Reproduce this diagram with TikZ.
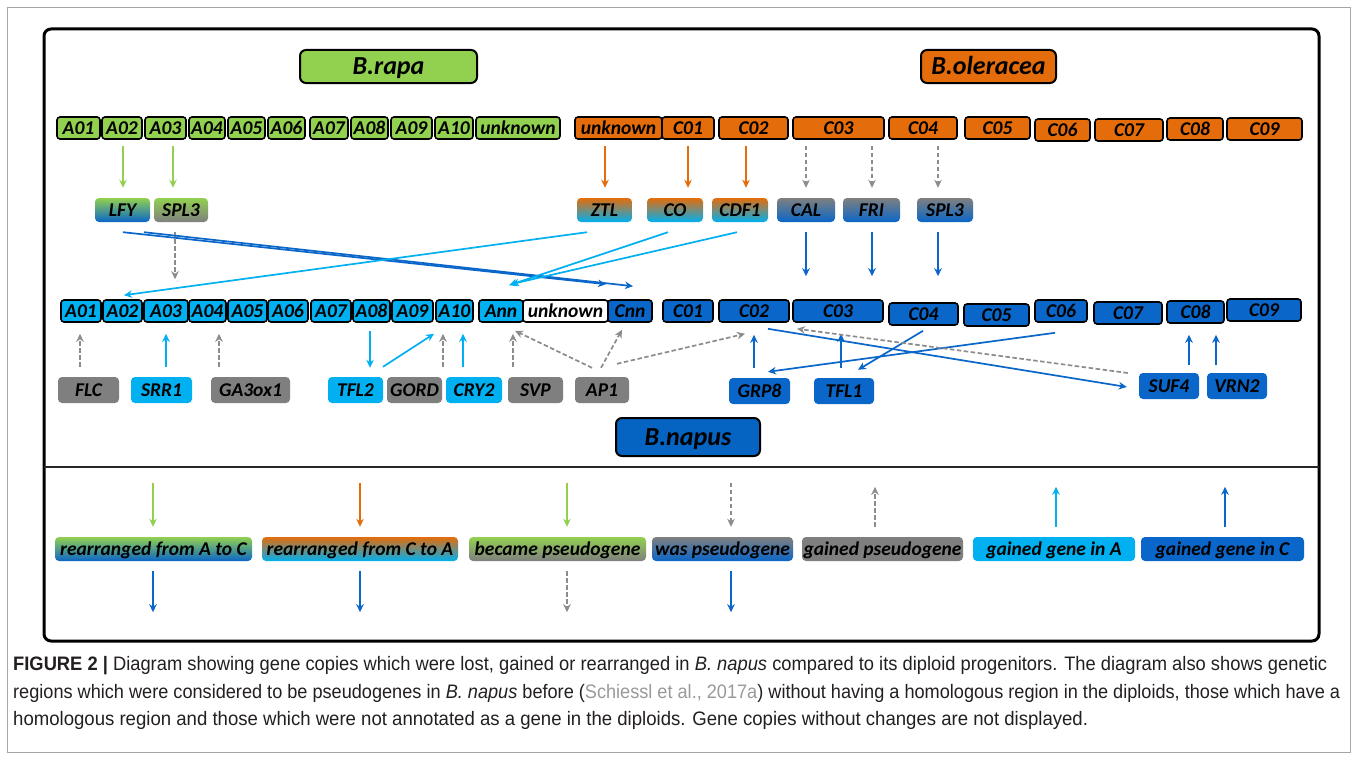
\documentclass[tikz,border=0pt]{standalone}
\usepackage{fontspec}
\setmainfont{Carlito}
\newfontfamily\capfont{Liberation Sans}
\usepackage{graphicx}
\usetikzlibrary{arrows.meta,calc}
\definecolor{cgreen}{HTML}{92D050}
\definecolor{corange}{HTML}{E46C0A}
\definecolor{clblue}{HTML}{00B0F0}
\definecolor{cdblue}{HTML}{0A66C8}
\definecolor{cgray}{HTML}{7F7F7F}
\definecolor{agray}{HTML}{8C8C8C}
\definecolor{cnapus}{HTML}{0563C1}
\definecolor{citegray}{HTML}{9A9A9A}
\definecolor{captext}{HTML}{231F20}
\newlength{\fitlen}
\newcommand{\fitline}[2]{\settowidth{\fitlen}{#2}\pgfmathsetmacro{\fitratio}{#1/\fitlen}\scalebox{\fitratio}[1]{#2}}
\newcommand{\chrnode}[6]{\node[chrbox, fill=#5, minimum width=#4pt] (#1) at (#2,#3) {#6};}
\newcommand{\genenode}[6]{\node[genebox, #5, minimum width=#4pt] (#1) at (#2,#3) {#6};}
\begin{document}
\begin{tikzpicture}[x=1pt,y=-1pt,
  lab/.style={font=\fontsize{19.5}{19.5}\selectfont\bfseries\itshape, text height=14.5pt, text depth=1.5pt, inner sep=0pt, text=black},
  chrbox/.style={lab, draw=black, line width=1.6pt, rounded corners=3pt, minimum height=22pt},
  genebox/.style={lab, rounded corners=4pt, minimum height=24pt},
  hdrbox/.style={font=\fontsize{26}{26}\selectfont\bfseries\itshape, text=black, draw=black, line width=2pt, rounded corners=6pt, inner sep=0pt, text height=19pt, text depth=3pt},
  arr/.style={line width=1.7pt, -{Stealth[length=8pt,width=7.5pt,inset=2.5pt]}},
  arrg/.style={arr, draw=cgreen},
  arro/.style={arr, draw=corange},
  arrl/.style={arr, draw=clblue},
  arrd/.style={arr, draw=cdblue},
  arrp/.style={arr, draw=agray, dash pattern=on 4.5pt off 2.5pt},
]
\useasboundingbox (0,0) rectangle (1357,760);
\fill[white] (0,0) rectangle (1357,760);
% frames
\draw[gray!70, line width=1pt] (7,8) rectangle (1350,752);
\draw[black, line width=3pt, rounded corners=7pt] (44,29) rectangle (1319,641);
\draw[black!85, line width=2.2pt] (44,467) -- (1319,467);

% headers
\node[hdrbox, fill=cgreen, minimum width=177pt, minimum height=33pt] (rapa) at (388.5,66.5) {B.rapa};
\node[hdrbox, fill=corange, minimum width=135pt, minimum height=33pt] (oler) at (988.5,66.5) {B.oleracea};
\node[hdrbox, fill=cnapus, minimum width=144pt, minimum height=38pt] (napus) at (688,437) {B.napus};

% row 1
\chrnode{tA01}{78.5}{128}{43}{cgreen}{A01}
\chrnode{tA02}{122}{128}{40}{cgreen}{A02}
\chrnode{tA03}{165.5}{128}{41}{cgreen}{A03}
\chrnode{tA04}{207}{128}{36}{cgreen}{A04}
\chrnode{tA05}{246.5}{128}{37}{cgreen}{A05}
\chrnode{tA06}{286.5}{128}{37}{cgreen}{A06}
\chrnode{tA07}{329}{128}{38}{cgreen}{A07}
\chrnode{tA08}{369.5}{128}{37}{cgreen}{A08}
\chrnode{tA09}{411.5}{128}{41}{cgreen}{A09}
\chrnode{tA10}{454}{128}{38}{cgreen}{A10}
\chrnode{unkA}{518}{128}{84}{cgreen}{unknown}
\chrnode{unkC}{618.5}{128}{87}{corange}{unknown}
\chrnode{tC01}{688}{128}{52}{corange}{C01}
\chrnode{tC02}{753.5}{128}{69}{corange}{C02}
\chrnode{tC03}{838.5}{128}{91}{corange}{C03}
\chrnode{tC04}{923}{128}{68}{corange}{C04}
\chrnode{tC05}{997.5}{128}{65}{corange}{C05}
\chrnode{tC06}{1062.5}{130}{55}{corange}{C06}
\chrnode{tC07}{1129}{130}{68}{corange}{C07}
\chrnode{tC08}{1195}{129}{56}{corange}{C08}
\chrnode{tC09}{1264.5}{129}{75}{corange}{C09}

% gene row 1
\genenode{LFY}{122.5}{210}{55}{top color=cgreen, bottom color=cdblue}{LFY}
\genenode{SPLa}{181}{210}{54}{top color=cgreen, bottom color=cgray}{SPL3}
\genenode{ZTL}{604.5}{210}{55}{top color=corange, bottom color=clblue}{ZTL}
\genenode{CO}{675}{210}{56}{top color=corange, bottom color=clblue}{CO}
\genenode{CDF}{740}{210}{56}{top color=corange, bottom color=clblue}{CDF1}
\genenode{CAL}{806}{210}{58}{top color=cgray, bottom color=cdblue}{CAL}
\genenode{FRI}{871.5}{210}{57}{top color=cgray, bottom color=cdblue}{FRI}
\genenode{SPLc}{945}{210}{56}{top color=cgray, bottom color=cdblue}{SPL3}

% row 2
\chrnode{bA01}{81}{311}{40}{clblue}{A01}
\chrnode{bA02}{122.5}{311}{39}{clblue}{A02}
\chrnode{bA03}{166}{311}{44}{clblue}{A03}
\chrnode{bA04}{207.5}{311}{37}{clblue}{A04}
\chrnode{bA05}{247.5}{311}{39}{clblue}{A05}
\chrnode{bA06}{288}{311}{40}{clblue}{A06}
\chrnode{bA07}{331}{311}{40}{clblue}{A07}
\chrnode{bA08}{371.5}{311}{37}{clblue}{A08}
\chrnode{bA09}{412.5}{311}{41}{clblue}{A09}
\chrnode{bA10}{454.5}{311}{37}{clblue}{A10}
\chrnode{Ann}{501}{311}{44}{clblue}{Ann}
\chrnode{unkN}{565.5}{311}{85}{white}{unknown}
\chrnode{Cnn}{630}{311}{44}{cdblue}{Cnn}
\chrnode{bC01}{688}{311}{50}{cdblue}{C01}
\chrnode{bC02}{754}{311}{70}{cdblue}{C02}
\chrnode{bC03}{838}{311}{90}{cdblue}{C03}
\chrnode{bC04}{923.5}{314}{69}{cdblue}{C04}
\chrnode{bC05}{996.5}{315}{65}{cdblue}{C05}
\chrnode{bC06}{1061}{311}{52}{cdblue}{C06}
\chrnode{bC07}{1128}{313}{68}{cdblue}{C07}
\chrnode{bC08}{1195.5}{312}{57}{cdblue}{C08}
\chrnode{bC09}{1264}{310}{74}{cdblue}{C09}

% bottom genes
\genenode{FLC}{88.5}{390}{61}{fill=cgray, minimum height=26pt}{FLC}
\genenode{SRR}{161.5}{390}{61}{fill=clblue, minimum height=26pt}{SRR1}
\genenode{GA}{250.5}{390}{79}{fill=cgray, minimum height=26pt}{GA3ox1}
\genenode{TFLt}{355.5}{390}{55}{fill=clblue, minimum height=26pt}{TFL2}
\genenode{GORD}{414.5}{390}{55}{fill=cgray, minimum height=26pt}{GORD}
\genenode{CRY}{474}{390}{56}{fill=clblue, minimum height=26pt}{CRY2}
\genenode{SVP}{535.5}{390}{55}{fill=cgray, minimum height=26pt}{SVP}
\genenode{AP}{602}{390}{54}{fill=cgray, minimum height=26pt}{AP1}
\genenode{GRP}{759.5}{391}{61}{fill=cdblue, minimum height=26pt}{GRP8}
\genenode{TFLo}{844}{391}{60}{fill=cdblue, minimum height=26pt}{TFL1}
\genenode{SUF}{1169}{386}{60}{fill=cdblue, minimum height=26pt}{SUF4}
\genenode{VRN}{1237}{386}{60}{fill=cdblue, minimum height=26pt}{VRN2}

% legend
\genenode{L1}{153.5}{549}{197}{top color=cgreen, bottom color=cdblue}{rearranged from A to C}
\genenode{L2}{360}{549}{196}{top color=corange, bottom color=clblue}{rearranged from C to A}
\genenode{L3}{557.5}{549}{177}{top color=cgreen, bottom color=cgray}{became pseudogene}
\genenode{L4}{722.5}{549}{141}{top color=cgray, bottom color=cdblue}{was pseudogene}
\genenode{L5}{882.5}{549}{161}{fill=cgray}{gained pseudogene}
\genenode{L6}{1054}{549}{162}{fill=clblue}{gained gene in A}
\genenode{L7}{1222.5}{549}{163}{fill=cdblue}{gained gene in C}

% arrows row1 -> gene row 1
\draw[arrg] ($(tA02.south)+(1,6)$) -- ($(LFY.north)+(0.5,-10)$);
\draw[arrg] ($(tA03.south)+(7.5,6)$) -- ($(SPLa.north)+(-8,-10)$);
\draw[arro] ($(unkC.south)+(-13.5,6)$) -- ($(ZTL.north)+(0.5,-10)$);
\draw[arro] ($(tC01.south)+(0,6)$) -- ($(CO.north)+(13,-10)$);
\draw[arro] ($(tC02.south)+(-7.5,6)$) -- ($(CDF.north)+(6,-10)$);
\draw[arrp] ($(tC03.south)+(-32.5,6)$) -- ($(CAL.north)+(0,-10)$);
\draw[arrp] ($(tC03.south)+(33.5,6)$) -- ($(FRI.north)+(0.5,-10)$);
\draw[arrp] ($(tC04.south)+(15,6)$) -- ($(SPLc.north)+(-7,-10)$);

% gene row 1 -> row 2
\draw[arrp] ($(SPLa.south)+(-6,10)$) -- ($(bA03.north)+(9,-20)$);
\draw[arrd] ($(LFY.south)+(0.5,10)$) -- ($(Cnn.north)+(-24,-15)$);
\draw[arrd] ($(LFY.south)+(21.5,10)$) -- ($(Cnn.north)+(3,-13)$);
\draw[arrl] ($(ZTL.south)+(-17.5,10)$) -- ($(bA02.north)+(1.5,-4)$);
\draw[arrl] ($(CO.south)+(-7,10)$) -- ($(Ann.north)+(8,-14)$);
\draw[arrl] ($(CDF.south)+(-3,10)$) -- ($(Ann.north)+(10,-15)$);
\draw[arrd] ($(CAL.south)+(0,10)$) -- ($(bC03.north)+(-32,-23)$);
\draw[arrd] ($(FRI.south)+(0.5,10)$) -- ($(bC03.north)+(34,-23)$);
\draw[arrd] ($(SPLc.south)+(-7,10)$) -- ($(bC04.north)+(14.5,-26)$);

% bottom genes <-> row 2
\draw[arrp] ($(FLC.north)+(-8.5,-10)$) -- ($(bA01.south)+(-1,11)$);
\draw[arrl] ($(SRR.north)+(4.5,-10)$) -- ($(bA03.south)+(0,11)$);
\draw[arrp] ($(GA.north)+(-31.5,-10)$) -- ($(bA04.south)+(11.5,11)$);
\draw[arrl] ($(bA08.south)+(-1.5,8)$) -- ($(TFLt.north)+(14.5,-9)$);
\draw[arrl] ($(TFLt.north)+(27.5,-10)$) -- ($(bA10.south)+(-20.5,11)$);
\draw[arrp] ($(GORD.north)+(28.5,-10)$) -- ($(bA10.south)+(-11.5,11)$);
\draw[arrl] ($(CRY.north)+(-11,-10)$) -- ($(bA10.south)+(8.5,11)$);
\draw[arrp] ($(SVP.north)+(-22.5,-10)$) -- ($(Ann.south)+(12,11)$);
\draw[arrp] ($(AP.north)+(-10,-9)$) -- ($(Ann.south)+(14,8)$);
\draw[arrp] ($(AP.north)+(-1,-9)$) -- ($(Cnn.south)+(-8,7)$);
\draw[arrp] ($(AP.north)+(15,-13)$) -- ($(bC02.south)+(-9,11)$);
\draw[arrd] ($(GRP.north)+(-5.5,-10)$) -- ($(bC02.south)+(0,12)$);
\draw[arrd] ($(TFLo.north)+(-3,-10)$) -- ($(bC03.south)+(3,11)$);
\draw[arrd] ($(bC04.south)+(-0.5,5)$) -- ($(TFLo.north)+(14,-8)$);
\draw[arrd] ($(bC06.south)+(-6,10)$) -- ($(GRP.north)+(8.5,-6)$);
\draw[arrd] ($(bC02.south)+(14,6)$) -- ($(SUF.west)+(-12,1)$);
\draw[arrp] ($(SUF.west)+(-11,-13)$) -- ($(bC03.south)+(-41,6)$);
\draw[arrd] ($(SUF.north)+(20,-8)$) -- ($(bC08.south)+(-6.5,11)$);
\draw[arrd] ($(VRN.north)+(-21,-8)$) -- ($(bC08.south)+(20.5,11)$);

% legend arrows
\draw[arrg] ($(L1.north)+(-0.5,-54)$) -- ($(L1.north)+(-0.5,-10)$);
\draw[arro] ($(L2.north)+(0,-54)$) -- ($(L2.north)+(0,-10)$);
\draw[arrg] ($(L3.north)+(9.5,-54)$) -- ($(L3.north)+(9.5,-10)$);
\draw[arrp] ($(L4.north)+(8.5,-54)$) -- ($(L4.north)+(8.5,-10)$);
\draw[arrp] ($(L5.north)+(-7.5,-10)$) -- ($(L5.north)+(-7.5,-50)$);
\draw[arrl] ($(L6.north)+(2,-10)$) -- ($(L6.north)+(2,-50)$);
\draw[arrd] ($(L7.north)+(2.5,-10)$) -- ($(L7.north)+(2.5,-50)$);
\draw[arrd] ($(L1.south)+(-0.5,10)$) -- ($(L1.south)+(-0.5,51)$);
\draw[arrd] ($(L2.south)+(0,10)$) -- ($(L2.south)+(0,51)$);
\draw[arrp] ($(L3.south)+(9.5,10)$) -- ($(L3.south)+(9.5,51)$);
\draw[arrd] ($(L4.south)+(8.5,10)$) -- ($(L4.south)+(8.5,51)$);

% caption
\node[anchor=base west, inner sep=0pt, text=captext, font=\capfont\fontsize{19.5}{19.5}\selectfont] (cap1) at (13,670)
  {\fitline{1314}{\textbf{FIGURE 2 |} Diagram showing gene copies which were lost, gained or rearranged in \textit{B. napus} compared to its diploid progenitors. The diagram also shows genetic}};
\node[anchor=base west, inner sep=0pt, text=captext, font=\capfont\fontsize{19.5}{19.5}\selectfont] (cap2) at (13,698)
  {\fitline{1327}{regions which were considered to be pseudogenes in \textit{B. napus} before (\textcolor{citegray}{Schiessl et al., 2017a}) without having a homologous region in the diploids, those which have a}};
\node[anchor=base west, inner sep=0pt, text=captext, font=\capfont\fontsize{19.5}{19.5}\selectfont] (cap3) at (13,725)
  {\fitline{1075}{homologous region and those which were not annotated as a gene in the diploids. Gene copies without changes are not displayed.}};
\end{tikzpicture}
\end{document}
